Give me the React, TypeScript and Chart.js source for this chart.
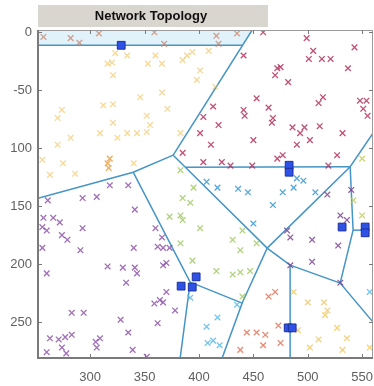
import { useEffect, useRef } from "react";
import { Chart, registerables } from "chart.js";
Chart.register(...registerables);

const titleText = "Network Topology";
const xTicks = [300, 350, 400, 450, 500, 550];
const yTicks = [0, 50, 100, 150, 200, 250];
const yTickLabels = ["0", "-50", "100", "150", "200", "250"];
const xRange = [252, 560];
const yRange = [-2, 281];

type P = [number, number];

// cluster heads
const headPoints: P[] = [
  [328.5, 11.2], [482.9, 114.7], [482.9, 120.7], [531.6, 168], [552.8, 168], [552.8, 173],
  [383.6, 219], [393.8, 219.8], [397.4, 211], [482, 255], [485.7, 255],
];

// cell borders
const edges: P[][] = [
  [[252, 11.2], [439.7, 11.2]],
  [[448.9, -2], [376.3, 106]],
  [[376.3, 106], [339.5, 120.7], [252, 143.1]],
  [[339.5, 120.7], [391.9, 215.5], [382.7, 281]],
  [[391.9, 215.5], [439.7, 233.6], [421.3, 281]],
  [[376.3, 106], [462.7, 186.2], [483.8, 200.9], [483.8, 281]],
  [[439.7, 233.6], [462.7, 186.2]],
  [[387.5, 116.5], [539, 116]],
  [[560, 87], [539, 116], [462.7, 186.2]],
  [[539, 116], [541.7, 170.7], [529.8, 216.4]],
  [[483.8, 200.9], [529.8, 216.4], [560, 250]],
  [[541.7, 170.7], [550, 170.7]],
];

const stripPolygon: P[] = [[252, -2], [448.9, -2], [439.7, 11.2], [252, 11.2]];

const stripPoints: P[] = [[257, 4], [282, 5], [290, 9], [308, 1], [359, 0], [368, 10], [416, 3], [418, 10], [435, 1]];
const yellowPoints: P[] = [
  [323, 18], [334, 20], [316, 27], [320, 26], [353, 27], [366, 27], [360, 20], [385, 24], [389, 20], [394, 17],
  [409, 16], [401, 33], [398, 41], [321, 37], [415, 47], [366, 52], [346, 56], [321, 62], [312, 63], [274, 67],
  [270, 74], [352, 72], [371, 66], [321, 78], [355, 80], [282, 91], [309, 87], [325, 91], [334, 87], [343, 87],
  [352, 86], [270, 97], [275, 113], [256, 110], [263, 123], [286, 122], [340, 113], [383, 87],
];
const orangePoints: P[] = [[316, 113], [318, 109], [317, 117]];
const crimsonPoints: P[] = [
  [441, 20], [459, 0], [499, 5], [505, 16], [501, 23], [513, 23], [521, 23], [543, 13], [537, 31], [475, 30],
  [472, 31], [470, 37], [482, 43], [453, 57], [413, 64], [404, 73], [418, 80], [441, 67], [442, 72], [464, 65],
  [468, 74], [467, 78], [486, 82], [497, 82], [511, 81], [514, 56], [510, 61], [548, 59], [554, 59], [551, 66],
  [555, 72], [401, 87], [411, 97], [404, 112], [421, 112], [429, 115], [449, 115], [450, 93], [472, 109],
  [477, 106], [493, 87], [490, 97], [502, 93], [532, 87], [527, 106], [519, 115], [385, 104],
];
const cyanPoints: P[] = [
  [407, 129], [417, 134], [436, 135], [445, 138], [468, 149], [477, 138], [487, 134], [490, 126], [496, 128],
  [507, 138], [450, 165],
];
const greenPoints: P[] = [
  [383, 119], [395, 134], [385, 143], [392, 147], [373, 159], [383, 158], [385, 162], [401, 169], [383, 182],
  [394, 197], [431, 179], [440, 171], [438, 188], [453, 182], [416, 206], [431, 209], [438, 207], [447, 206],
  [440, 228],
];
const violetPoints: P[] = [
  [518, 140], [481, 171], [484, 177], [504, 179], [528, 184], [530, 158], [536, 162], [484, 201], [504, 198],
  [530, 216], [540, 136],
];
const limePoints: P[] = [[542, 145], [550, 158], [550, 109]];
const purplePoints: P[] = [
  [261, 145], [293, 143], [306, 142], [318, 132], [335, 132], [341, 153], [257, 160], [266, 160], [272, 164],
  [256, 168], [260, 171], [274, 175], [279, 179], [293, 169], [256, 186], [291, 188], [340, 186], [360, 169],
  [366, 177], [362, 185], [367, 186], [373, 186], [260, 208], [316, 202], [330, 203], [341, 203], [343, 208],
  [333, 216], [367, 201], [370, 199], [283, 242], [294, 242], [328, 248], [335, 259], [362, 251], [367, 233],
  [359, 234], [364, 231], [370, 224], [378, 240], [263, 264], [271, 265], [277, 263], [283, 261], [274, 272],
  [260, 276], [278, 277], [305, 267], [309, 264], [306, 272], [339, 274], [352, 280],
];
const lightCyanPoints: P[] = [[392, 229], [417, 246], [407, 254], [413, 266], [408, 268], [419, 270], [435, 235], [557, 224]];
const redPoints: P[] = [[464, 228], [470, 224], [444, 259], [453, 259], [461, 261], [459, 270], [473, 253], [475, 268], [438, 274]];
const goldPoints: P[] = [
  [487, 224], [500, 233], [515, 233], [518, 240], [516, 244], [527, 255], [510, 265], [502, 272], [536, 264],
  [532, 274], [557, 272], [491, 257],
];

const markerGroups: { pts: P[]; color: string }[] = [
  { pts: stripPoints, color: "rgba(200,130,100,0.75)" },
  { pts: yellowPoints, color: "rgba(242,190,80,0.6)" },
  { pts: orangePoints, color: "rgba(235,150,50,0.8)" },
  { pts: crimsonPoints, color: "rgba(180,50,95,0.85)" },
  { pts: cyanPoints, color: "rgba(55,150,210,0.85)" },
  { pts: greenPoints, color: "rgba(150,195,80,0.75)" },
  { pts: violetPoints, color: "rgba(125,70,145,0.85)" },
  { pts: limePoints, color: "rgba(190,205,80,0.8)" },
  { pts: purplePoints, color: "rgba(135,75,165,0.8)" },
  { pts: lightCyanPoints, color: "rgba(80,180,230,0.8)" },
  { pts: redPoints, color: "rgba(225,110,80,0.8)" },
  { pts: goldPoints, color: "rgba(240,190,70,0.7)" },
];

const toXY = (pts: P[]) => pts.map(([x, y]) => ({ x, y }));

const decorPlugin = {
  id: "decor",
  beforeDatasetsDraw(chart: any) {
    const { ctx, scales } = chart;
    const sx = scales.x, sy = scales.y;
    ctx.save();
    ctx.fillStyle = "#e2f2fa";
    ctx.beginPath();
    stripPolygon.forEach(([vx, vy], i) => {
      const px = sx.getPixelForValue(vx), py = sy.getPixelForValue(vy);
      if (i) ctx.lineTo(px, py); else ctx.moveTo(px, py);
    });
    ctx.closePath();
    ctx.fill();
    ctx.restore();
  },
  afterDraw(chart: any) {
    const { ctx, chartArea: a, scales } = chart;
    const sx = scales.x, sy = scales.y;
    ctx.save();
    ctx.strokeStyle = "#9a9a9a";
    ctx.lineWidth = 1;
    ctx.beginPath();
    ctx.moveTo(a.left, a.top + 0.5);
    ctx.lineTo(a.right, a.top + 0.5);
    ctx.moveTo(a.right - 0.5, a.top);
    ctx.lineTo(a.right - 0.5, a.bottom);
    ctx.stroke();
    ctx.strokeStyle = "#7a7a7a";
    ctx.lineWidth = 2;
    ctx.beginPath();
    ctx.moveTo(a.left, a.top);
    ctx.lineTo(a.left, a.bottom);
    ctx.lineTo(a.right, a.bottom);
    ctx.stroke();
    ctx.lineWidth = 1;
    ctx.beginPath();
    xTicks.forEach((v) => {
      const px = Math.round(sx.getPixelForValue(v)) + 0.5;
      ctx.moveTo(px, a.bottom); ctx.lineTo(px, a.bottom - 4);
      ctx.moveTo(px, a.top); ctx.lineTo(px, a.top + 4);
    });
    yTicks.forEach((v) => {
      const py = Math.round(sy.getPixelForValue(v)) + 0.5;
      ctx.moveTo(a.left, py); ctx.lineTo(a.left + 4, py);
      ctx.moveTo(a.right, py); ctx.lineTo(a.right - 4, py);
    });
    ctx.stroke();
    const bx = a.left, bw = 230, by = 5, bh = 22;
    ctx.fillStyle = "#d9d5cf";
    ctx.fillRect(bx, by, bw, bh);
    ctx.fillStyle = "#111";
    ctx.font = "bold 13px 'Liberation Sans', Arial, sans-serif";
    ctx.textAlign = "center";
    ctx.textBaseline = "middle";
    ctx.fillText(titleText, bx + bw / 2 - 2, by + bh / 2 + 0.5);
    ctx.restore();
  },
};

export default function App() {
  const ref = useRef<HTMLCanvasElement | null>(null);
  useEffect(() => {
    if (!ref.current) return;
    const datasets: any[] = [];
    datasets.push({
      data: toXY(headPoints),
      pointStyle: "rect",
      pointRadius: 5.5,
      backgroundColor: "#2f52e6",
      borderColor: "#1c2f9e",
      borderWidth: 1,
      showLine: false,
      order: 0,
    });
    markerGroups.forEach((g) => {
      datasets.push({
        data: toXY(g.pts),
        pointStyle: "crossRot",
        pointRadius: 4,
        borderColor: g.color,
        backgroundColor: g.color,
        borderWidth: 1.3,
        showLine: false,
        order: 1,
      });
    });
    edges.forEach((e) => {
      datasets.push({
        data: toXY(e),
        showLine: true,
        pointRadius: 0,
        borderColor: "#4595c6",
        borderWidth: 1.5,
        fill: false,
        tension: 0,
        order: 2,
      });
    });
    const chart = new Chart(ref.current, {
      type: "scatter",
      data: { datasets },
      options: {
        animation: false,
        responsive: false,
        layout: { autoPadding: false, padding: { top: 30, right: 1, left: 0, bottom: 0 } },
        plugins: { legend: { display: false }, tooltip: { enabled: false }, title: { display: false } },
        scales: {
          x: {
            type: "linear",
            min: xRange[0],
            max: xRange[1],
            grid: { display: false, drawTicks: false },
            border: { display: false },
            afterBuildTicks: (s: any) => { s.ticks = xTicks.map((v) => ({ value: v })); },
            afterFit: (s: any) => { s.height = 28; s.paddingLeft = 0; s.paddingRight = 0; },
            ticks: {
              padding: 12,
              color: "#606060",
              font: { family: "'Liberation Sans', Arial, sans-serif", size: 13 },
              maxRotation: 0,
              autoSkip: false,
            },
          },
          y: {
            type: "linear",
            reverse: true,
            min: yRange[0],
            max: yRange[1],
            grid: { display: false, drawTicks: false },
            border: { display: false },
            afterBuildTicks: (s: any) => { s.ticks = yTicks.map((v) => ({ value: v })); },
            afterFit: (s: any) => { s.width = 38; s.paddingTop = 0; s.paddingBottom = 0; },
            ticks: {
              padding: 6,
              color: "#606060",
              font: { family: "'Liberation Sans', Arial, sans-serif", size: 13 },
              autoSkip: false,
              callback: (v: any) => {
                const i = yTicks.indexOf(Number(v));
                return i >= 0 ? yTickLabels[i] : "";
              },
            },
          },
        },
      },
      plugins: [decorPlugin],
    });
    return () => chart.destroy();
  }, []);
  return (
    <div style={{ position: "absolute", left: 0, top: 0, width: 374, height: 386, background: "#fff" }}>
      <canvas ref={ref} width={374} height={386} style={{ display: "block" }} />
    </div>
  );
}
